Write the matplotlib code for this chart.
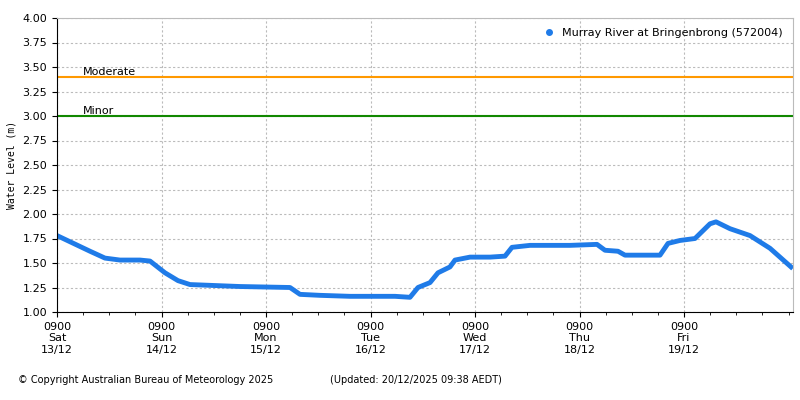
import matplotlib
matplotlib.use("Agg")
import matplotlib.pyplot as plt
import numpy as np

px = [57,90,105,120,140,150,165,178,190,215,240,290,300,320,350,395,410,418,430,438,450,455,470,490,505,512,530,570,597,605,618,625,660,668,680,695,710,716,730,750,770,791]
level = [1.78,1.62,1.55,1.53,1.53,1.52,1.40,1.32,1.28,1.27,1.26,1.25,1.18,1.17,1.16,1.16,1.15,1.25,1.30,1.40,1.46,1.53,1.56,1.56,1.57,1.66,1.68,1.68,1.69,1.63,1.62,1.58,1.58,1.70,1.73,1.75,1.90,1.92,1.85,1.78,1.65,1.46]
hours = [(p-57)/104.5*24 for p in px]
tick_labels = ["0900\nSat\n13/12","0900\nSun\n14/12","0900\nMon\n15/12","0900\nTue\n16/12","0900\nWed\n17/12","0900\nThu\n18/12","0900\nFri\n19/12"]
moderate, minor = 3.4, 3.0

fig = plt.figure(figsize=(8,4), dpi=100)
ax = fig.add_axes([57/800, 1-312/400, (793-57)/800, (312-18)/400])
ax.plot(hours, level, color="#1f7be8", lw=3.5, marker="o", ms=0, label="Murray River at Bringenbrong (572004)")
ax.scatter([],[],color="#1f7be8",s=15)
ax.axhline(moderate, color="#ff9900", lw=1.5)
ax.axhline(minor, color="#118800", lw=1.5)
ax.text(6, moderate+0.02, "Moderate", fontsize=8)
ax.text(6, minor+0.02, "Minor", fontsize=8)
ax.set_xlim(0, (793-57)/104.5*24)
ax.set_ylim(1, 4)
ax.set_yticks(np.arange(1, 4.01, 0.25))
ax.set_yticklabels([f"{v:.2f}" for v in np.arange(1, 4.01, 0.25)], fontsize=8)
ax.set_xticks(np.arange(0, 7*24, 24))
ax.set_xticklabels(tick_labels, fontsize=8)
ax.set_xticks(np.arange(0, 170, 6), minor=True)
ax.grid(True, which="major", ls=(0,(2,2)), color="#bbbbbb", lw=0.8)
ax.set_ylabel("Water Level (m)", fontsize=7, family="DejaVu Sans Mono")
for s in ["top","right"]:
    ax.spines[s].set_color("#bbbbbb")
from matplotlib.lines import Line2D
ax.legend(handles=[Line2D([],[],color="#1f7be8",marker="o",ls="",ms=4)], labels=["Murray River at Bringenbrong (572004)"],
          loc="upper right", frameon=False, fontsize=8, handletextpad=0.2)
fig.text(18/800, 1-380/400, "© Copyright Australian Bureau of Meteorology 2025", fontsize=7, va="center")
fig.text(330/800, 1-380/400, "(Updated: 20/12/2025 09:38 AEDT)", fontsize=7, va="center")
fig.savefig("out.png")
